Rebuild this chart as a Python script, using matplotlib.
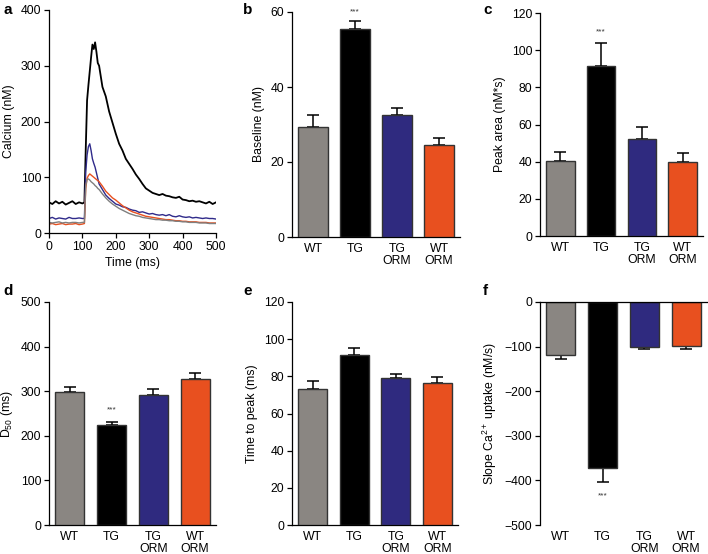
import numpy as np
import matplotlib
matplotlib.use('Agg')
import matplotlib.pyplot as plt

plt.rcParams['font.family'] = ['Liberation Sans', 'DejaVu Sans']
plt.rcParams['font.size'] = 8.8
plt.rcParams['mathtext.fontset'] = 'custom'
plt.rcParams['mathtext.rm'] = 'Liberation Sans'
plt.rcParams['mathtext.it'] = 'Liberation Sans:italic'
plt.rcParams['mathtext.bf'] = 'Liberation Sans:bold'
plt.rcParams['axes.linewidth'] = 0.9
plt.rcParams['xtick.major.width'] = 0.9
plt.rcParams['ytick.major.width'] = 0.9
plt.rcParams['xtick.major.size'] = 3.5
plt.rcParams['ytick.major.size'] = 3.5

# 数据：a 面板钙瞬变曲线
time_ms = [0, 10, 20, 30, 40, 50, 60, 70, 80, 90, 100,
           106, 110, 114, 118, 122, 126, 130, 134, 138, 142, 146, 150,
           160, 170, 180, 190, 200, 210, 220, 230, 240, 250, 260, 270, 280, 290,
           300, 310, 320, 330, 340, 350, 360, 370, 380, 390, 400, 410, 420, 430,
           440, 450, 460, 470, 480, 490, 500]
ca_tg = [55, 52, 57, 53, 56, 51, 54, 57, 52, 55, 53,
         55, 150, 238, 265, 290, 315, 338, 330, 342, 325, 305, 300,
         262, 245, 218, 198, 178, 160, 148, 133, 124, 115, 105, 97, 88, 80,
         76, 72, 70, 68, 70, 67, 66, 64, 63, 65, 60, 59, 57, 58,
         56, 57, 55, 53, 56, 52, 55]
ca_tg_orm = [26, 28, 25, 27, 26, 25, 28, 26, 26, 27, 26,
             26, 110, 140, 155, 160, 148, 133, 125, 118, 108, 98, 88,
             78, 68, 62, 57, 52, 50, 47, 46, 43, 41, 40, 37, 38, 36,
             34, 35, 33, 32, 33, 31, 33, 30, 29, 31, 29, 28, 29, 27,
             28, 27, 26, 27, 26, 26, 25]
ca_wt_orm = [16, 17, 15, 16, 17, 15, 16, 16, 17, 15, 16,
             17, 80, 98, 103, 106, 104, 102, 100, 98, 96, 94, 92,
             84, 75, 69, 63, 59, 54, 49, 45, 41, 38, 36, 34, 32, 30,
             29, 28, 27, 26, 25, 24, 24, 23, 22, 22, 21, 21, 20, 20,
             20, 19, 19, 19, 18, 18, 18]
ca_wt = [19, 18, 19, 20, 18, 19, 18, 19, 19, 18, 19,
         19, 85, 96, 97, 95, 92, 90, 88, 85, 83, 80, 78,
         70, 63, 57, 52, 48, 44, 41, 38, 35, 33, 31, 30, 28, 27,
         26, 25, 24, 24, 23, 23, 22, 22, 21, 21, 20, 20, 19, 19,
         19, 18, 18, 18, 17, 17, 17]

groups = ['WT', 'TG', 'TG\nORM', 'WT\nORM']
bar_colors = ['#8a8682', '#000000', '#2f2a7f', '#e8501f']

baseline = [29.3, 55.5, 32.5, 24.5]
baseline_err = [3.2, 2.2, 2.0, 1.8]
peak_area = [40.5, 91.5, 52.3, 40.0]
peak_area_err = [4.5, 12.5, 6.6, 4.6]
d50 = [297.5, 224, 291.5, 328]
d50_err = [12, 7.5, 12.5, 12]
time_to_peak = [73.2, 91.7, 79.1, 76.6]
time_to_peak_err = [4.3, 3.6, 2.3, 3.0]
slope = [-118, -373, -101, -99]
slope_err = [9, 31, 4, 7]

W, H = 708, 554
fig = plt.figure(figsize=(W / 100, H / 100), dpi=100)


def add_ax(l, r, t, b):
    return fig.add_axes([l / W, 1 - b / H, (r - l) / W, (b - t) / H])


def style(ax):
    ax.spines['top'].set_visible(False)
    ax.spines['right'].set_visible(False)
    ax.tick_params(direction='out', pad=2)


def bar_panel(ax, vals, errs, ylim, yticks, ylabel, star=None, down=False):
    style(ax)
    x = np.arange(len(vals))
    ax.bar(x, vals, width=0.7, color=bar_colors, edgecolor='#333333',
           linewidth=1.0, zorder=3)
    zeros = [0] * len(vals)
    yerr = [errs, zeros] if down else [zeros, errs]
    ax.errorbar(x, vals, yerr=yerr, fmt='none', ecolor='black',
                elinewidth=1.1, capsize=4, capthick=1.1, zorder=2)
    ax.set_xlim(-0.5, 3.5)
    ax.set_ylim(*ylim)
    ax.set_yticks(yticks)
    ax.set_xticks(x)
    ax.set_xticklabels(groups, linespacing=1.05)
    ax.tick_params(axis='x', length=0, pad=4)
    ax.set_ylabel(ylabel, labelpad=4)
    if star is not None:
        ax.text(1, star, '***', ha='center', va='center', fontsize=6,
                color='#333333')


# a: 钙瞬变
ax_a = add_ax(49, 216, 10, 233)
style(ax_a)
ax_a.plot(time_ms, ca_tg, color='black', lw=1.3)
ax_a.plot(time_ms, ca_tg_orm, color='#2f2a8a', lw=1.0)
ax_a.plot(time_ms, ca_wt_orm, color='#e8501f', lw=1.0)
ax_a.plot(time_ms, ca_wt, color='#7f7f7f', lw=1.0)
ax_a.set_xlim(0, 500)
ax_a.set_ylim(0, 400)
ax_a.set_xticks([0, 100, 200, 300, 400, 500])
ax_a.set_yticks([0, 100, 200, 300, 400])
ax_a.set_xlabel('Time (ms)', labelpad=3)
ax_a.set_ylabel('Calcium (nM)', labelpad=4)

ax_b = add_ax(292, 460, 12, 237)
bar_panel(ax_b, baseline, baseline_err, (0, 60), [0, 20, 40, 60],
          'Baseline (nM)', star=60)

ax_c = add_ax(540, 703, 13, 236)
bar_panel(ax_c, peak_area, peak_area_err, (0, 120), range(0, 121, 20),
          'Peak area (nM*s)', star=110)

ax_d = add_ax(49, 216, 302, 525)
bar_panel(ax_d, d50, d50_err, (0, 500), range(0, 501, 100),
          'D$_{50}$ (ms)', star=259)

ax_e = add_ax(292, 458, 302, 525)
bar_panel(ax_e, time_to_peak, time_to_peak_err, (0, 120), range(0, 121, 20),
          'Time to peak (ms)')

ax_f = add_ax(540, 707, 302, 525)
bar_panel(ax_f, slope, slope_err, (-500, 0), range(-500, 1, 100),
          'Slope Ca$^{2+}$ uptake (nM/s)', star=-435, down=True)
ax_f.spines['bottom'].set_visible(False)
ax_f.axhline(0, color='black', lw=0.9, zorder=4, clip_on=False)

# 面板字母
for lbl, px, py in [('a', 3, 10), ('b', 243, 10), ('c', 483, 10),
                    ('d', 3, 291), ('e', 243, 291), ('f', 483, 291)]:
    fig.text(px / W, 1 - py / H, lbl, fontsize=11, fontweight='bold',
             ha='left', va='center')

fig.savefig('out.png', dpi=100)
